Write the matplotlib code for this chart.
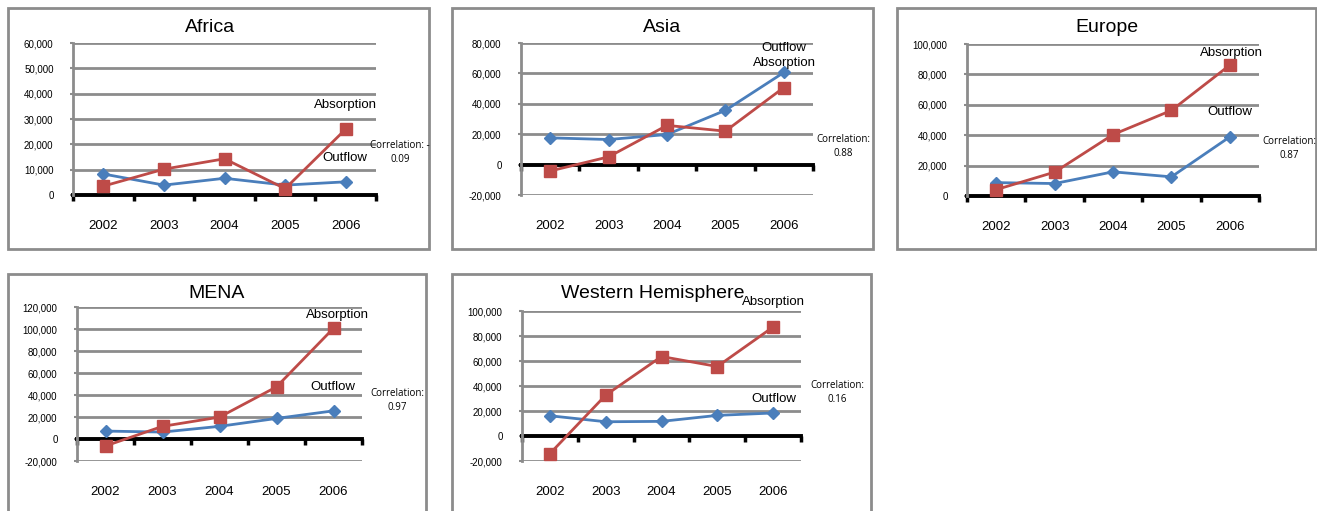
import numpy as np
import matplotlib.pyplot as plt
from matplotlib.patches import Rectangle

W, H = 1317, 511

years = ["2002", "2003", "2004", "2005", "2006"]

africaOutflow = [8300, 3900, 6600, 3900, 5200]
africaAbsorption = [3500, 10200, 14300, 2500, 26000]
asiaOutflow = [17600, 16500, 19800, 35700, 60600]
asiaAbsorption = [-4200, 5100, 25800, 22000, 50700]
europeOutflow = [8800, 8200, 15900, 12600, 38900]
europeAbsorption = [4200, 15700, 40400, 56300, 86100]
menaOutflow = [7200, 6300, 11500, 18700, 25600]
menaAbsorption = [-6300, 11500, 19900, 47400, 100700]
whOutflow = [16200, 11400, 11700, 16500, 18400]
whAbsorption = [-14100, 32700, 63600, 55600, 87200]

correlations = ["-0.09", "0.88", "0.87", "0.97", "0.16"]

BLUE = "#4a7ebb"
RED = "#be4b48"
GRID = "#8c8c8c"
FONT = ["Liberation Sans Narrow", "Liberation Sans", "DejaVu Sans"]


def fx(x):
    return x / W


def fy(y):
    return 1 - y / H


def addPanel(fig, box, plot, title, titlePos, outflow, absorption, ylim, ystep,
             absPos, outPos, corrPos, corrLines):
    x0, y0, x1, y1 = box
    # panel frame sits under the axes
    fig.patches.append(Rectangle((fx(x0), fy(y1)), fx(x1 - x0), (y1 - y0) / H,
                                 transform=fig.transFigure, facecolor="white",
                                 edgecolor=GRID, linewidth=2, zorder=-5))
    px0, py0, px1, py1 = plot
    ax = fig.add_axes([fx(px0), fy(py1), fx(px1 - px0), (py1 - py0) / H])
    ax.set_facecolor("none")
    ax.set_zorder(2)
    xs = np.arange(len(years))

    ax.set_xlim(-0.5, len(years) - 0.5)
    ax.set_ylim(*ylim)
    ticks = np.arange(ylim[0], ylim[1] + 1, ystep)
    ax.set_yticks(ticks)
    ax.set_yticklabels([f"{t:,}" for t in ticks], fontsize=7, family=FONT)
    for t in ticks:
        if t != 0:
            ax.axhline(t, color=GRID, linewidth=2, zorder=1)
    ax.tick_params(axis="y", length=2, width=1.5, color=GRID, pad=12)

    for s in ["top", "right"]:
        ax.spines[s].set_visible(False)
    ax.spines["left"].set_color(GRID)
    ax.spines["left"].set_linewidth(2)
    ax.spines["bottom"].set_position(("data", 0))
    ax.spines["bottom"].set_color("black")
    ax.spines["bottom"].set_linewidth(2.8)
    ax.spines["bottom"].set_zorder(2)
    ax.set_xticks(np.arange(-0.5, len(years), 1.0))
    ax.set_xticklabels([])
    ax.tick_params(axis="x", direction="out", length=4, width=2.5, color="black")
    for i, yr in enumerate(years):
        ax.annotate(yr, xy=(i, 0), xycoords=("data", "axes fraction"),
                    xytext=(0, -22), textcoords="offset points",
                    ha="center", va="center", fontsize=9.5, family=FONT)

    ax.plot(xs, outflow, color=BLUE, linewidth=2, marker="D", markersize=6,
            zorder=3, clip_on=False)
    ax.plot(xs, absorption, color=RED, linewidth=2, marker="s", markersize=8,
            zorder=4, clip_on=False)

    fig.text(fx(titlePos[0]), fy(titlePos[1]), title, ha="center", va="center",
             fontsize=14, family=FONT)
    fig.text(fx(absPos[0]), fy(absPos[1]), "Absorption", ha="center", va="center",
             fontsize=9.5, family=FONT)
    fig.text(fx(outPos[0]), fy(outPos[1]), "Outflow", ha="center", va="center",
             fontsize=9.5, family=FONT)
    for k, line in enumerate(corrLines):
        fig.text(fx(corrPos[0]), fy(corrPos[1] + 14 * k), line, ha="center",
                 va="center", fontsize=7, family=["Open Sans", "DejaVu Sans"])
    return ax


fig = plt.figure(figsize=(W / 100, H / 100), dpi=100)
fig.patch.set_facecolor("white")

addPanel(fig, (8, 8, 429, 249), (73, 43, 376, 195), "Africa", (210, 28),
         africaOutflow, africaAbsorption, (0, 60000), 10000,
         (345, 105), (345, 158), (400, 146), ["Correlation: -", correlations[0][1:]])
addPanel(fig, (452, 8, 873, 249), (521, 43, 813, 195), "Asia", (662, 28),
         asiaOutflow, asiaAbsorption, (-20000, 80000), 20000,
         (784, 63), (784, 48), (843, 140), ["Correlation:", correlations[1]])
addPanel(fig, (897, 8, 1316, 249), (967, 44, 1259, 196), "Europe", (1107, 28),
         europeOutflow, europeAbsorption, (0, 100000), 20000,
         (1231, 53), (1230, 112), (1289, 141), ["Correlation:", correlations[2]])
addPanel(fig, (8, 274, 426, 530), (77, 307, 362, 461), "MENA", (217, 293),
         menaOutflow, menaAbsorption, (-20000, 120000), 20000,
         (337, 315), (333, 387), (397, 393), ["Correlation:", correlations[3]])
addPanel(fig, (452, 274, 871, 530), (522, 311, 801, 461), "Western Hemisphere", (653, 293),
         whOutflow, whAbsorption, (-20000, 100000), 20000,
         (773, 302), (774, 399), (837, 386), ["Correlation:", correlations[4]])

fig.savefig("out.png", dpi=100, facecolor=fig.get_facecolor())
